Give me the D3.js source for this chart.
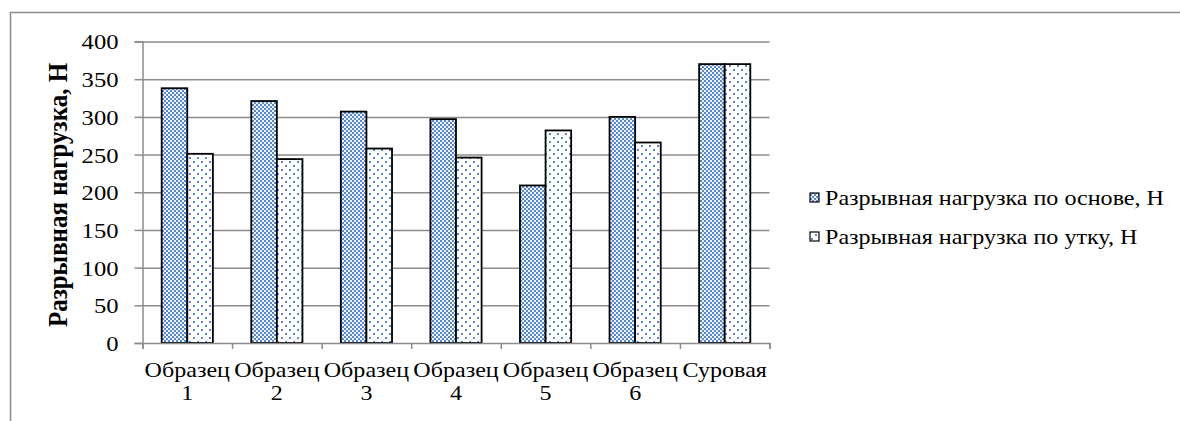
<!DOCTYPE html>
<html>
<head>
<meta charset="utf-8">
<script src="https://cdn.jsdelivr.net/npm/d3@7"></script>
<style>
  body { margin: 0; background: #fff; }
  svg { display: block; }
  text { font-family: "Liberation Serif", "Times New Roman", serif; fill: #000; }
</style>
</head>
<body>
<svg width="1180" height="421"></svg>
<script>
// chart data
const categories = ['Образец 1', 'Образец 2', 'Образец 3', 'Образец 4', 'Образец 5', 'Образец 6', 'Суровая'];
const warpValues = [338, 321, 307, 297, 209, 300, 370];
const weftValues = [251, 244, 258, 246, 282, 266, 370];
const seriesNames = ['Разрывная нагрузка по основе, Н', 'Разрывная нагрузка по утку, Н'];
const yTicks = [0, 50, 100, 150, 200, 250, 300, 350, 400];
const yTitle = 'Разрывная нагрузка, Н';

// the reference text is a bit wide, so stretch glyphs horizontally
const sx = 1.12;
const fontFam = '"Liberation Serif", "Times New Roman", serif';

const svg = d3.select('svg');
const defs = svg.append('defs');

// checker pattern for the warp bars
const checker = defs.append('pattern')
  .attr('id', 'checker')
  .attr('patternUnits', 'userSpaceOnUse')
  .attr('width', 4).attr('height', 4);
checker.append('rect').attr('width', 4).attr('height', 4).attr('fill', '#eef3fa');
checker.append('rect').attr('x', 0).attr('y', 0).attr('width', 2).attr('height', 2).attr('fill', '#5a89c9');
checker.append('rect').attr('x', 2).attr('y', 2).attr('width', 2).attr('height', 2).attr('fill', '#5a89c9');

// sparse dots for the weft bars
const dots = defs.append('pattern')
  .attr('id', 'dots')
  .attr('patternUnits', 'userSpaceOnUse')
  .attr('width', 8).attr('height', 8);
dots.append('rect').attr('width', 8).attr('height', 8).attr('fill', '#ffffff');
dots.append('rect').attr('x', 1).attr('y', 1).attr('width', 2).attr('height', 2).attr('fill', '#5b88c8');
dots.append('rect').attr('x', 5).attr('y', 5).attr('width', 2).attr('height', 2).attr('fill', '#5b88c8');

// outer chart border (cut off at right and bottom)
svg.append('path')
  .attr('d', 'M10.5,421 V12.5 H1180')
  .attr('fill', 'none')
  .attr('stroke', '#8c8c8c')
  .attr('stroke-width', 1.5);

const x0 = 142.5, x1 = 769.5;
const y = d3.scaleLinear().domain([0, 400]).range([343, 41.5]);
const x = d3.scaleBand().domain(categories).range([x0, x1]).padding(0);
const bw = x.bandwidth() / 3.5;

// gridlines
svg.append('g')
  .attr('transform', `translate(${x0},0)`)
  .call(d3.axisLeft(y).tickValues(yTicks.slice(1)).tickSize(-(x1 - x0)).tickFormat(''))
  .call(g => g.select('.domain').remove())
  .call(g => g.selectAll('line').attr('stroke', '#8c8c8c').attr('stroke-width', 1.5));

// bars
const bars = svg.append('g');
bars.selectAll('.warp')
  .data(warpValues)
  .enter()
  .append('rect')
  .attr('class', 'warp')
  .attr('x', (d, i) => x(categories[i]) + bw * 0.75)
  .attr('y', d => y(d))
  .attr('width', bw)
  .attr('height', d => y(0) - y(d))
  .attr('fill', 'url(#checker)')
  .attr('stroke', '#000')
  .attr('stroke-width', 1.8);

bars.selectAll('.weft')
  .data(weftValues)
  .enter()
  .append('rect')
  .attr('class', 'weft')
  .attr('x', (d, i) => x(categories[i]) + bw * 1.75)
  .attr('y', d => y(d))
  .attr('width', bw)
  .attr('height', d => y(0) - y(d))
  .attr('fill', 'url(#dots)')
  .attr('stroke', '#000')
  .attr('stroke-width', 1.8);

// y axis
const yAxis = svg.append('g')
  .attr('transform', `translate(${x0},0)`)
  .attr('font-family', fontFam)
  .call(d3.axisLeft(y).tickValues(yTicks).tickSize(8).tickPadding(16));
yAxis.select('.domain').attr('stroke', '#8c8c8c').attr('stroke-width', 1.5);
yAxis.selectAll('line').attr('stroke', '#8c8c8c').attr('stroke-width', 1.5);
yAxis.selectAll('text')
  .style('font-family', fontFam)
  .style('font-size', '22px')
  .attr('dy', '0.34em')
  .attr('transform', function () {
    const tx = +d3.select(this).attr('x');
    return `translate(${tx},0) scale(${sx},1) translate(${-tx},0)`;
  });

// x axis, ticks at band edges
const edge = d3.scaleLinear().domain([0, categories.length]).range([x0, x1]);
const xAxis = svg.append('g')
  .attr('transform', `translate(0,${y(0)})`)
  .call(d3.axisBottom(edge).tickValues(d3.range(categories.length + 1)).tickSize(6).tickFormat(''));
xAxis.select('.domain').attr('stroke', '#8c8c8c').attr('stroke-width', 1.5);
xAxis.selectAll('line').attr('stroke', '#8c8c8c').attr('stroke-width', 1.5);

// category labels, wrapped on the space
const labels = svg.append('g').selectAll('text')
  .data(categories)
  .enter()
  .append('text')
  .attr('text-anchor', 'middle')
  .style('font-family', fontFam)
  .style('font-size', '21.5px')
  .attr('transform', d => `translate(${x(d) + x.bandwidth() / 2},377) scale(${sx},1)`);
labels.each(function (d) {
  const parts = d.split(' ');
  d3.select(this).selectAll('tspan')
    .data(parts)
    .enter()
    .append('tspan')
    .attr('x', 0)
    .attr('y', (p, i) => i * 23)
    .text(p => p);
});

// y axis title
svg.append('text')
  .attr('text-anchor', 'middle')
  .style('font-family', fontFam)
  .style('font-size', '25px')
  .style('font-weight', 'bold')
  .attr('transform', `translate(67,195) scale(${sx},1) rotate(-90)`)
  .text(yTitle);

// legend
const legend = svg.append('g').selectAll('g')
  .data(seriesNames)
  .enter()
  .append('g')
  .attr('transform', (d, i) => `translate(810,${198 + i * 39})`);
legend.append('rect')
  .attr('x', 0).attr('y', -5)
  .attr('width', 9).attr('height', 9)
  .attr('fill', (d, i) => i === 0 ? 'url(#checker)' : 'url(#dots)')
  .attr('stroke', '#000')
  .attr('stroke-width', 1.2);
legend.append('text')
  .attr('transform', `translate(15,0) scale(${sx},1)`)
  .attr('dy', '0.34em')
  .style('font-family', fontFam)
  .style('font-size', '21.5px')
  .text(d => d);
</script>
</body>
</html>
